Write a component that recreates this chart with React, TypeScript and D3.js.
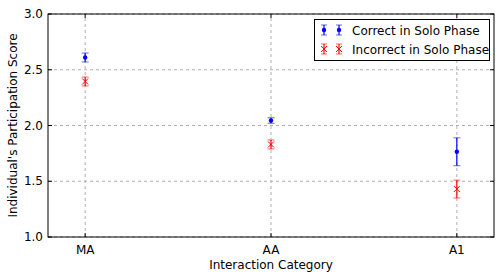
import React, { useEffect, useRef } from 'react';
import * as d3 from 'd3';

const categories = ['MA', 'AA', 'A1'];
const correctMean = [2.61, 2.045, 1.765];
const correctErr = [0.04, 0.025, 0.125];
const incorrectMean = [2.395, 1.83, 1.43];
const incorrectErr = [0.04, 0.04, 0.08];
const yTicks = [1.0, 1.5, 2.0, 2.5, 3.0];

const W = 501, H = 279;
const m = { left: 48, right: 7, top: 14, bottom: 42 };

export default function App() {
  const ref = useRef<SVGSVGElement>(null);

  useEffect(() => {
    const svg = d3.select(ref.current);
    svg.selectAll('*').remove();
    const font = 'DejaVu Sans';
    const x = d3.scaleLinear().domain([-0.2, 2.2]).range([m.left, W - m.right]);
    const y = d3.scaleLinear().domain([1, 3]).range([H - m.bottom, m.top]);
    const x0 = m.left, x1 = W - m.right, y0 = H - m.bottom, y1 = m.top;

    svg.append('rect').attr('width', W).attr('height', H).attr('fill', 'white');

    // grid
    const g = svg.append('g');
    categories.forEach((c, i) => {
      g.append('line').attr('x1', x(i)).attr('x2', x(i)).attr('y1', y0).attr('y2', y1)
        .attr('stroke', '#b0b0b0').attr('stroke-dasharray', '3,3');
    });
    yTicks.forEach((t) => {
      g.append('line').attr('x1', x0).attr('x2', x1).attr('y1', y(t)).attr('y2', y(t))
        .attr('stroke', '#b0b0b0').attr('stroke-dasharray', '3,3');
    });

    // ticks (inside, all four sides)
    categories.forEach((c, i) => {
      g.append('line').attr('x1', x(i)).attr('x2', x(i)).attr('y1', y0).attr('y2', y0 - 4).attr('stroke', 'black');
      g.append('line').attr('x1', x(i)).attr('x2', x(i)).attr('y1', y1).attr('y2', y1 + 4).attr('stroke', 'black');
      g.append('text').attr('x', x(i)).attr('y', y0 + 17).attr('text-anchor', 'middle')
        .attr('font-family', font).attr('font-size', 12).text(c);
    });
    yTicks.forEach((t) => {
      g.append('line').attr('x1', x0).attr('x2', x0 + 4).attr('y1', y(t)).attr('y2', y(t)).attr('stroke', 'black');
      g.append('line').attr('x1', x1).attr('x2', x1 - 4).attr('y1', y(t)).attr('y2', y(t)).attr('stroke', 'black');
      g.append('text').attr('x', x0 - 5).attr('y', y(t) + 4).attr('text-anchor', 'end')
        .attr('font-family', font).attr('font-size', 12).text(t.toFixed(1));
    });

    const drawErr = (gg: any, cx: number, mean: number, err: number, color: string) => {
      gg.append('line').attr('x1', cx).attr('x2', cx).attr('y1', y(mean - err)).attr('y2', y(mean + err))
        .attr('stroke', color).attr('stroke-width', 1.2);
      [mean - err, mean + err].forEach((v) => {
        gg.append('line').attr('x1', cx - 3.5).attr('x2', cx + 3.5).attr('y1', y(v)).attr('y2', y(v))
          .attr('stroke', color).attr('stroke-opacity', 0.5).attr('stroke-width', 1.2);
      });
    };
    const dot = (gg: any, cx: number, cy: number) => {
      gg.append('circle').attr('cx', cx).attr('cy', cy).attr('r', 2.2).attr('fill', 'blue');
    };
    const cross = (gg: any, cx: number, cy: number) => {
      const s = 3;
      gg.append('path').attr('d', `M${cx - s},${cy - s}L${cx + s},${cy + s}M${cx - s},${cy + s}L${cx + s},${cy - s}`)
        .attr('stroke', 'red').attr('stroke-width', 1).attr('fill', 'none');
    };

    const pts = svg.append('g');
    categories.forEach((c, i) => {
      drawErr(pts, x(i), correctMean[i], correctErr[i], 'blue');
      dot(pts, x(i), y(correctMean[i]));
      drawErr(pts, x(i), incorrectMean[i], incorrectErr[i], 'red');
      cross(pts, x(i), y(incorrectMean[i]));
    });

    // frame
    svg.append('rect').attr('x', x0).attr('y', y1).attr('width', x1 - x0).attr('height', y0 - y1)
      .attr('fill', 'none').attr('stroke', 'black').attr('stroke-width', 1);

    // labels
    svg.append('text').attr('x', (x0 + x1) / 2).attr('y', 269).attr('text-anchor', 'middle')
      .attr('font-family', font).attr('font-size', 12).text('Interaction Category');
    svg.append('text').attr('transform', `translate(17,${(y0 + y1) / 2}) rotate(-90)`).attr('text-anchor', 'middle')
      .attr('font-family', font).attr('font-size', 12).text("Individual's Participation Score");

    // legend
    const lg = svg.append('g');
    lg.append('rect').attr('x', 314.5).attr('y', 19.5).attr('width', 175).attr('height', 41)
      .attr('fill', 'white').attr('stroke', 'black');
    const rows = [
      { label: 'Correct in Solo Phase', color: 'blue', mean: 0, kind: 'dot' },
      { label: 'Incorrect in Solo Phase', color: 'red', mean: 0, kind: 'cross' },
    ];
    rows.forEach((r, k) => {
      const cy = 30 + k * 19;
      [324, 339].forEach((cx) => {
        lg.append('line').attr('x1', cx).attr('x2', cx).attr('y1', cy - 5).attr('y2', cy + 5)
          .attr('stroke', r.color).attr('stroke-width', 1.2);
        [cy - 5, cy + 5].forEach((vy) => {
          lg.append('line').attr('x1', cx - 3).attr('x2', cx + 3).attr('y1', vy).attr('y2', vy)
            .attr('stroke', r.color).attr('stroke-opacity', 0.5).attr('stroke-width', 1.2);
        });
        if (r.kind === 'dot') dot(lg, cx, cy); else cross(lg, cx, cy);
      });
      lg.append('text').attr('x', 352).attr('y', cy + 4.5).attr('font-family', font).attr('font-size', 12).text(r.label);
    });
  }, []);

  return <svg ref={ref} width={W} height={H} style={{ position: 'absolute', left: 0, top: 0 }} />;
}
